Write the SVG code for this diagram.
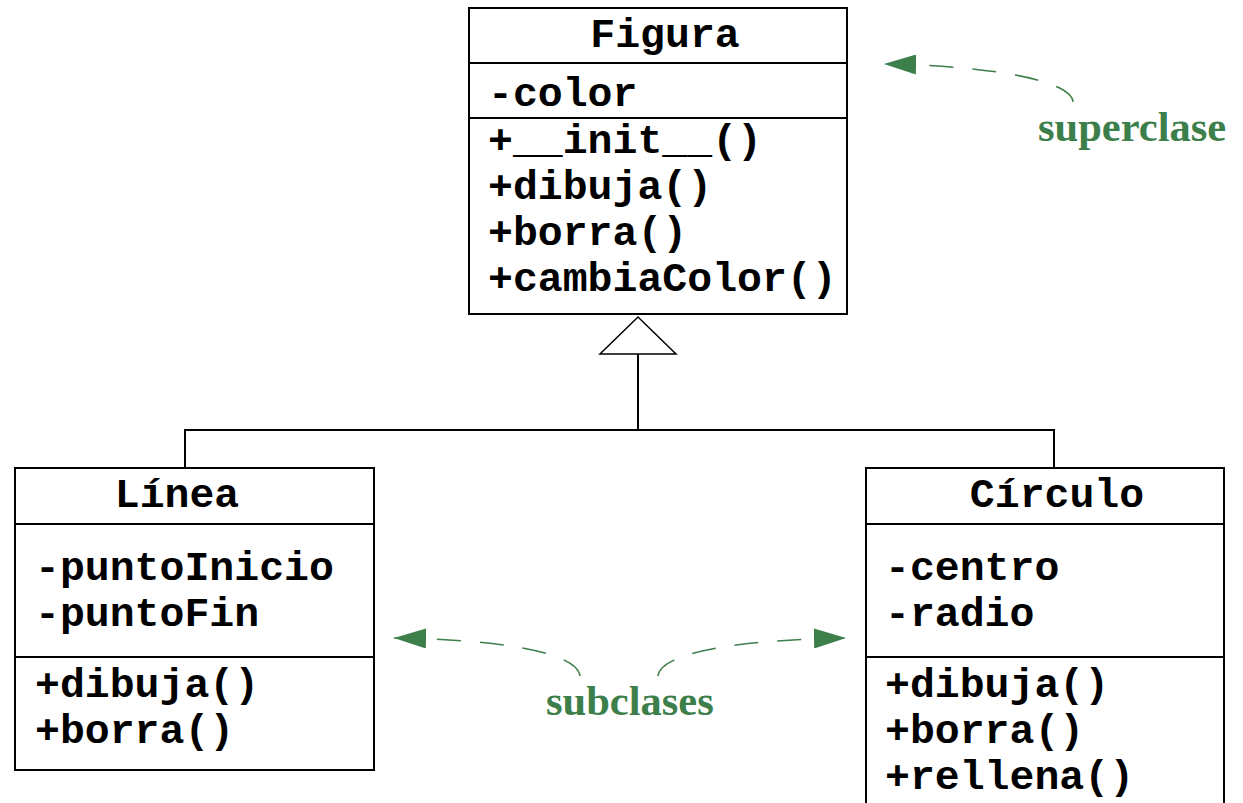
<svg xmlns="http://www.w3.org/2000/svg" width="1243" height="803" viewBox="0 0 1243 803">
<defs>
<style>
.box{fill:#fff;stroke:#000;stroke-width:2}
.div{stroke:#000;stroke-width:2}
.t{font-family:"Liberation Mono","Courier New",monospace;font-weight:bold;font-size:41.5px;fill:#000}
.c{text-anchor:middle}
.lbl{font-family:"Liberation Serif","Times New Roman",serif;font-weight:bold;font-size:42.5px;fill:#3d7f4a}
.gen{fill:none;stroke:#000;stroke-width:2}
.dash{fill:none;stroke:#3d7f4a;stroke-width:1.5;stroke-dasharray:24,19}
</style>
<marker id="ga" viewBox="0 0 32 20" refX="32" refY="10" markerWidth="32" markerHeight="20" markerUnits="userSpaceOnUse" orient="auto">
<path d="M0,0 L32,10 L0,20 Z" fill="#3d7f4a"/>
</marker>
</defs>
<g id="connectors">
<path class="gen" d="M185,468 V430 H1054 V468 M638,430 V354"/>
<path d="M638,317 L676,354 L600,354 Z" fill="#fff" stroke="#000" stroke-width="1.5"/>
<path class="dash" d="M1073,102 C1072,82 1000,66 884,64" marker-end="url(#ga)"/>
<path class="dash" d="M580,676 C578,656 520,640 394,638" marker-end="url(#ga)"/>
<path class="dash" d="M658,676 C660,656 720,640 846,638" marker-end="url(#ga)"/>
</g>
<g id="figura">
<rect class="box" x="469" y="8" width="378" height="306"/>
<line class="div" x1="469" y1="63" x2="847" y2="63"/>
<line class="div" x1="469" y1="118" x2="847" y2="118"/>
<text class="t c" x="665" y="47">Figura</text>
<text class="t" x="488" y="106">-color</text>
<text class="t" x="488" y="153">+__init__()</text>
<text class="t" x="488" y="199">+dibuja()</text>
<text class="t" x="488" y="245">+borra()</text>
<text class="t" x="488" y="291">+cambiaColor()</text>
</g>
<g id="linea">
<rect class="box" x="15" y="468" width="359" height="302"/>
<line class="div" x1="15" y1="524" x2="374" y2="524"/>
<line class="div" x1="15" y1="657" x2="374" y2="657"/>
<text class="t c" x="177" y="507">Línea</text>
<text class="t" x="35" y="580">-puntoInicio</text>
<text class="t" x="35" y="626">-puntoFin</text>
<text class="t" x="35" y="697">+dibuja()</text>
<text class="t" x="35" y="743">+borra()</text>
</g>
<g id="circulo">
<rect class="box" x="866" y="468" width="358" height="340"/>
<line class="div" x1="866" y1="524" x2="1224" y2="524"/>
<line class="div" x1="866" y1="657" x2="1224" y2="657"/>
<text class="t c" x="1057" y="507">Círculo</text>
<text class="t" x="885" y="580">-centro</text>
<text class="t" x="885" y="626">-radio</text>
<text class="t" x="885" y="697">+dibuja()</text>
<text class="t" x="885" y="743">+borra()</text>
<text class="t" x="885" y="789">+rellena()</text>
</g>
<g id="labels">
<text class="lbl" x="1038" y="141">superclase</text>
<text class="lbl" x="546" y="715">subclases</text>
</g>
</svg>
